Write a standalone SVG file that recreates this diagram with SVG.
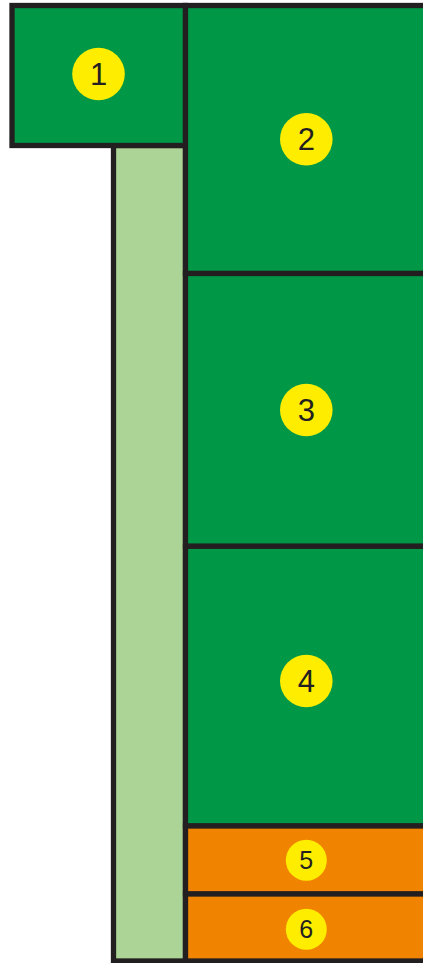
<svg xmlns="http://www.w3.org/2000/svg" width="423" height="963" viewBox="0 0 423 963">
  <style>
    .box { stroke: #231f20; stroke-width: 5.3; }
    .dark { fill: #009846; }
    .light { fill: #abd496; }
    .orange { fill: #f08300; }
    .badge { fill: #ffed00; }
    .lbl { font-family: "Liberation Sans", Arial, sans-serif; fill: #231f20; text-anchor: middle; }
    .big { font-size: 31px; }
    .small { font-size: 25px; }
  </style>
  <g id="stripe">
    <rect class="box light" x="113.5" y="145.5" width="72" height="815.5"/>
  </g>
  <g id="node1">
    <rect class="box dark" x="12" y="5.5" width="173.5" height="140"/>
    <circle class="badge" cx="98.5" cy="74" r="26.3"/>
    <text class="lbl big" x="98.5" y="85">1</text>
  </g>
  <g id="node2">
    <rect class="box dark" x="185.5" y="5.5" width="245" height="268"/>
    <circle class="badge" cx="306.3" cy="139.3" r="26.3"/>
    <text class="lbl big" x="306.3" y="150.3">2</text>
  </g>
  <g id="node3">
    <rect class="box dark" x="185.5" y="273.5" width="245" height="272.8"/>
    <circle class="badge" cx="306.3" cy="410" r="26.3"/>
    <text class="lbl big" x="306.3" y="421">3</text>
  </g>
  <g id="node4">
    <rect class="box dark" x="185.5" y="546.3" width="245" height="279.7"/>
    <circle class="badge" cx="306.3" cy="681" r="26.3"/>
    <text class="lbl big" x="306.3" y="692">4</text>
  </g>
  <g id="node5">
    <rect class="box orange" x="185.5" y="826" width="245" height="68"/>
    <circle class="badge" cx="306.3" cy="860.3" r="20.5"/>
    <text class="lbl small" x="306.3" y="869.3">5</text>
  </g>
  <g id="node6">
    <rect class="box orange" x="185.5" y="894" width="245" height="67"/>
    <circle class="badge" cx="306.3" cy="929.3" r="20.5"/>
    <text class="lbl small" x="306.3" y="938.3">6</text>
  </g>
  <g id="connectors"></g>
</svg>
